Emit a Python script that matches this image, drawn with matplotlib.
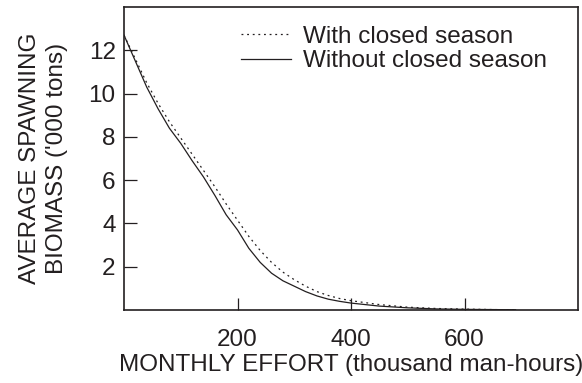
import matplotlib.pyplot as plt

plt.rcParams['font.family'] = 'Liberation Sans'

effort = [0, 20, 40, 60, 80, 100, 120, 140, 160, 180, 200, 220, 240, 260, 280,
          300, 320, 340, 360, 380, 400, 450, 500, 550, 600, 650, 690]
with_closed = [12.7, 11.6, 10.5, 9.55, 8.7, 7.95, 7.2, 6.45, 5.7, 4.9, 4.15, 3.4, 2.75, 2.2, 1.75,
               1.4, 1.1, 0.85, 0.67, 0.53, 0.43, 0.25, 0.13, 0.07, 0.04, 0.02, 0.01]
without_closed = [12.7, 11.5, 10.3, 9.3, 8.4, 7.7, 6.9, 6.15, 5.3, 4.4, 3.7, 2.85, 2.2, 1.7, 1.35,
                  1.1, 0.85, 0.65, 0.5, 0.4, 0.32, 0.18, 0.1, 0.05, 0.03, 0.02, 0.01]

xticks = [200, 400, 600]
yticks = [2, 4, 6, 8, 10, 12]

ink = '#231f20'
fs = 17.5
fig = plt.figure(figsize=(5.82, 3.83), dpi=100)
ax = fig.add_axes([124 / 582, 1 - 310 / 383, (578 - 124) / 582, (310 - 7) / 383])

ax.plot(effort, with_closed, color=ink, lw=0.9, ls=(0, (1.5, 3)), label='With closed season')
ax.plot(effort, without_closed, color=ink, lw=0.9, label='Without closed season')

ax.set_xlim(0, 800)
ax.set_ylim(0, 14)
ax.set_xticks(xticks)
ax.set_yticks(yticks)
ax.tick_params(direction='in', length=9, width=0.9, colors=ink, labelsize=fs, pad=6)
ax.tick_params(axis='x', pad=14)
for s in ax.spines.values():
    s.set_linewidth(1.2)
    s.set_color(ink)

ax.set_xlabel('MONTHLY EFFORT (thousand man-hours)', fontsize=fs, color=ink, labelpad=2)
ax.set_ylabel("AVERAGE SPAWNING\nBIOMASS ('000 tons)", fontsize=fs, color=ink, labelpad=15,
              linespacing=1.25)

ax.legend(loc='upper right', bbox_to_anchor=(0.98, 1.01), frameon=False, fontsize=fs,
          handlelength=2.05, handletextpad=0.5, labelspacing=0.1, labelcolor=ink)

fig.savefig('out.png', dpi=100)
